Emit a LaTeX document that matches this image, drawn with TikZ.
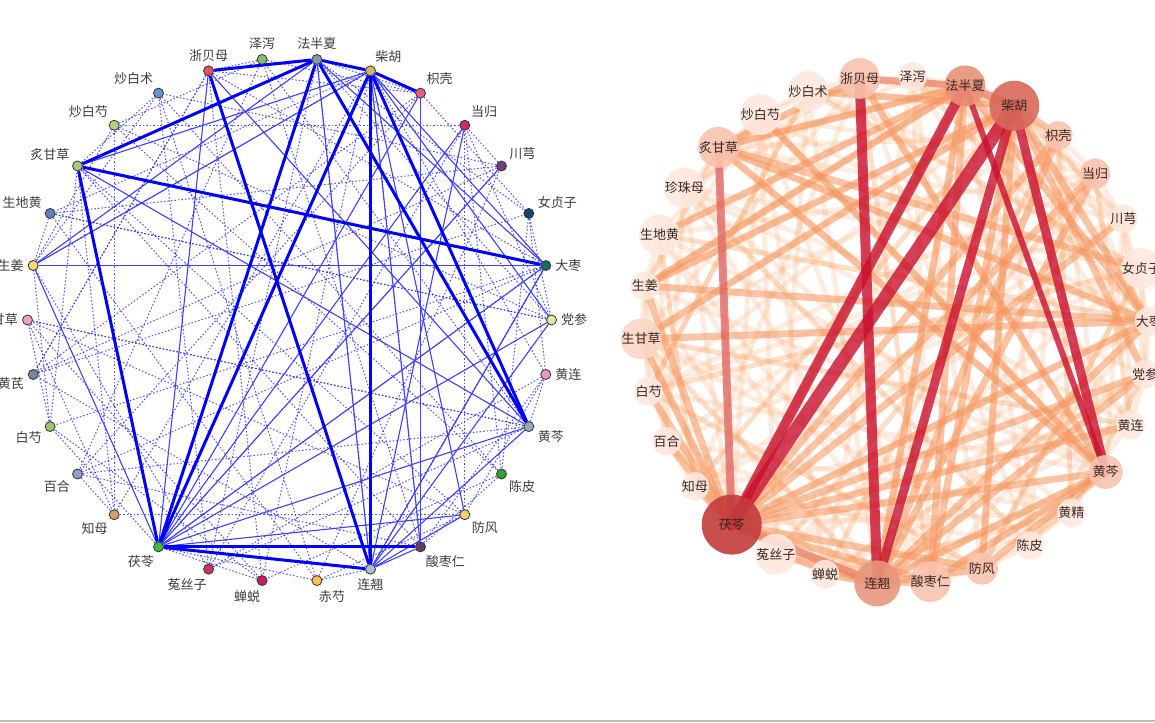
\documentclass[tikz,border=0pt]{standalone}
\usepackage{fontspec}
\setmainfont{Noto Sans CJK SC}
\usetikzlibrary{backgrounds}
\definecolor{edgeblue}{RGB}{0,0,255}
\definecolor{labelgray}{RGB}{60,60,60}
\definecolor{rtext}{RGB}{55,40,40}
% dot colours, left graph
\definecolor{banxia}{RGB}{135,150,170}\definecolor{chaihu}{RGB}{215,180,110}\definecolor{zhike}{RGB}{240,90,130}
\definecolor{danggui}{RGB}{210,40,110}\definecolor{chuanxiong}{RGB}{120,60,120}\definecolor{nvzhen}{RGB}{20,70,110}
\definecolor{dazao}{RGB}{20,110,100}\definecolor{dangshen}{RGB}{220,235,160}\definecolor{huanglian}{RGB}{235,150,190}
\definecolor{huangqin}{RGB}{150,170,190}\definecolor{chenpi}{RGB}{50,160,50}\definecolor{fangfeng}{RGB}{245,210,100}
\definecolor{zaoren}{RGB}{100,60,100}\definecolor{lianqiao}{RGB}{170,190,215}\definecolor{chishao}{RGB}{245,195,80}
\definecolor{chantui}{RGB}{200,30,90}\definecolor{tusizi}{RGB}{205,50,100}\definecolor{fuling}{RGB}{60,190,60}
\definecolor{zhimu}{RGB}{215,160,100}\definecolor{baihe}{RGB}{140,160,200}\definecolor{baishao}{RGB}{150,200,100}
\definecolor{huangqi}{RGB}{120,135,150}\definecolor{gancao}{RGB}{240,160,190}\definecolor{shengjiang}{RGB}{245,215,110}
\definecolor{shengdi}{RGB}{90,130,190}\definecolor{zhigancao}{RGB}{170,200,120}\definecolor{chaobaishao}{RGB}{180,210,130}
\definecolor{chaobaizhu}{RGB}{100,150,210}\definecolor{zhebei}{RGB}{230,80,90}\definecolor{zexie}{RGB}{130,190,120}
% node and edge colours, right graph
\definecolor{rfuling}{RGB}{195,60,60}\definecolor{rchaihu}{RGB}{215,105,90}\definecolor{rlianqiao}{RGB}{232,150,125}
\definecolor{rbanxia}{RGB}{232,145,120}\definecolor{rmid}{RGB}{248,195,175}\definecolor{rlight}{RGB}{251,215,198}
\definecolor{rfaint}{RGB}{253,232,222}
\definecolor{hotred}{RGB}{200,16,46}\definecolor{rosered}{RGB}{222,100,100}\definecolor{salmon}{RGB}{232,125,100}
\definecolor{warm}{RGB}{245,150,95}\definecolor{pale}{RGB}{250,170,115}

\begin{document}
\begin{tikzpicture}[x=1pt,y=1pt,
  ldot/.style={circle,draw=black!80,line width=.8pt,minimum size=10pt,inner sep=0pt},
  llabel/.style={font=\fontsize{13}{15}\selectfont,text=labelgray,inner sep=1pt,label distance=3pt},
  lthin/.style={draw=edgeblue!75,line width=1.1pt},
  lthick/.style={draw=edgeblue,line width=3pt},
  ldotted/.style={draw=edgeblue!85,line width=1pt,dash pattern=on 1.5pt off 2pt,opacity=.8},
  rnode/.style={circle,inner sep=0pt,fill opacity=.9,text opacity=1,text=rtext,font=\fontsize{13}{15}\selectfont},
  rhot/.style={draw=hotred,line width=#1,opacity=.8,line cap=round},
  rwarm/.style={draw=warm,line width=7pt,opacity=.55},
  rpale/.style={draw=pale,line width=5pt,opacity=.22}]
\useasboundingbox (0,0) rectangle (1155,722);
\draw[gray!50,line width=1.5pt] (0,1) -- (1155,1);

% left graph
\begin{scope}[shift={(289.5,402)}]
\foreach \nm/\zh/\ang [count=\i from 0] in {banxia/法半夏/90,chaihu/柴胡/63,zhike/枳壳/55,danggui/当归/52,chuanxiong/川芎/36,nvzhen/女贞子/23,dazao/大枣/0,dangshen/党参/0,huanglian/黄连/0,huangqin/黄芩/-20,chenpi/陈皮/-40,fangfeng/防风/-45,zaoren/酸枣仁/-60,lianqiao/连翘/-90,chishao/赤芍/-85,chantui/蝉蜕/-95,tusizi/菟丝子/-95,fuling/茯苓/-115,zhimu/知母/-130,baihe/百合/-140,baishao/白芍/-150,huangqi/黄芪/-165,gancao/生甘草/180,shengjiang/生姜/180,shengdi/生地黄/152,zhigancao/炙甘草/146,chaobaishao/炒白芍/127,chaobaizhu/炒白术/120,zhebei/浙贝母/90,zexie/泽泻/90}
  \node[ldot,fill=\nm,label={[llabel]\ang:\zh},alias=l\i] (l\nm) at ({84-12*\i}:262) {};
\end{scope}
\begin{scope}[on background layer]
\foreach \i in {0,...,29}{\foreach \m/\c in {7/5,11/13,13/2}{\pgfmathtruncatemacro\j{mod(\i*\m+\c,30)}\draw[ldotted] (l\i) -- (l\j);}}
\foreach \a/\b in {fuling/dazao,fuling/dangshen,fuling/huangqin,fuling/danggui,fuling/zhike,fuling/zhebei,fuling/fangfeng,fuling/shengjiang,fuling/chuanxiong,shengjiang/dazao,shengjiang/banxia,shengjiang/chaihu,chaihu/dazao,chaihu/dangshen,chaihu/zaoren,chaihu/fangfeng,banxia/dazao,banxia/lianqiao,zhebei/huangqin,zhigancao/huangqin,zhigancao/chaihu,lianqiao/dangshen,lianqiao/dazao,lianqiao/fangfeng,lianqiao/zaoren,lianqiao/danggui,lianqiao/huangqin,zaoren/zhike}
  \draw[lthin] (l\a) -- (l\b);
\foreach \a/\b in {zhebei/banxia,banxia/chaihu,chaihu/zhike,zhigancao/banxia,zhigancao/dazao,zhigancao/fuling,zhebei/lianqiao,chaihu/lianqiao,banxia/fuling,chaihu/fuling,chaihu/huangqin,banxia/huangqin,fuling/lianqiao,fuling/zaoren}
  \draw[lthick] (l\a) -- (l\b);
\end{scope}

% right graph
\begin{scope}[shift={(895,392)}]
\foreach \nm/\zh/\sz/\col [count=\i from 0] in {zexie/泽泻/22/rfaint,banxia/法半夏/38/rbanxia,chaihu/柴胡/50/rchaihu,zhike/枳壳/28/rmid,danggui/当归/30/rmid,chuanxiong/川芎/24/rfaint,nvzhen/女贞子/24/rfaint,dazao/大枣/26/rfaint,dangshen/党参/24/rfaint,huanglian/黄连/22/rfaint,huangqin/黄芩/34/rmid,huangjing/黄精/22/rfaint,chenpi/陈皮/22/rfaint,fangfeng/防风/32/rmid,zaoren/酸枣仁/30/rmid,lianqiao/连翘/46/rlianqiao,chantui/蝉蜕/22/rfaint,tusizi/菟丝子/22/rfaint,fuling/茯苓/60/rfuling,zhimu/知母/22/rfaint,baihe/百合/20/rfaint,baishao/白芍/20/rfaint,gancao/生甘草/28/rlight,shengjiang/生姜/24/rfaint,shengdi/生地黄/20/rfaint,zhenzhu/珍珠母/20/rfaint,zhigancao/炙甘草/32/rmid,chaobaishao/炒白芍/22/rfaint,chaobaizhu/炒白术/20/rfaint,zhebei/浙贝母/32/rmid}
  \node[rnode,minimum size=\sz,fill=\col,alias=r\i] (r\nm) at ({86-12*\i}:254) {\zh};
\end{scope}
\begin{scope}[on background layer]
\foreach \i in {0,...,29}{\foreach \m/\c in {7/5,11/13,13/2,17/9,19/4,23/7}{\pgfmathtruncatemacro\j{mod(\i*\m+\c,30)}\draw[rpale] (r\i.center) -- (r\j.center);}}
\foreach \a/\b in {zhigancao/zhebei,zhigancao/dazao,zhigancao/huangqin,zhigancao/banxia,shengjiang/dazao,shengjiang/banxia,shengjiang/chaihu,shengjiang/fuling,fuling/dazao,fuling/dangshen,fuling/huangqin,fuling/danggui,fuling/zhike,fuling/fangfeng,fuling/zaoren,lianqiao/dangshen,lianqiao/dazao,lianqiao/fangfeng,lianqiao/zaoren,lianqiao/huangqin,lianqiao/danggui,chaihu/dazao,chaihu/dangshen,chaihu/zaoren,chaihu/fangfeng,chaihu/zhike,banxia/lianqiao,banxia/dazao,banxia/zaoren,zhebei/huangqin,gancao/chaihu,gancao/dazao,gancao/fuling,zhike/lianqiao,huangqin/fangfeng,huangqin/zaoren,shengdi/banxia,baishao/fuling,baihe/fuling,zhimu/fuling,tusizi/lianqiao,chantui/lianqiao,chaobaishao/huangqin,chaobaizhu/chaihu,huanglian/fuling,nvzhen/zhigancao,chuanxiong/fuling}
  \draw[rwarm] (r\a.center) -- (r\b.center);
\draw[draw=salmon,line width=7pt,opacity=.7] (rzhebei.center) -- (rbanxia.center);
\draw[draw=salmon,line width=8pt,opacity=.75] (rbanxia.center) -- (rchaihu.center);
\draw[draw=salmon,line width=8pt,opacity=.75] (rfuling.center) -- (rlianqiao.center);
\draw[draw=rosered,line width=8pt,opacity=.75] (rzhigancao.center) -- (rfuling.center);
\foreach \a/\b/\w in {fuling/chaihu/13,fuling/banxia/10,zhebei/lianqiao/10,chaihu/lianqiao/9,chaihu/huangqin/9,banxia/huangqin/6}
  \draw[rhot=\w pt] (r\a.center) -- (r\b.center);
\end{scope}
\end{tikzpicture}
\end{document}
